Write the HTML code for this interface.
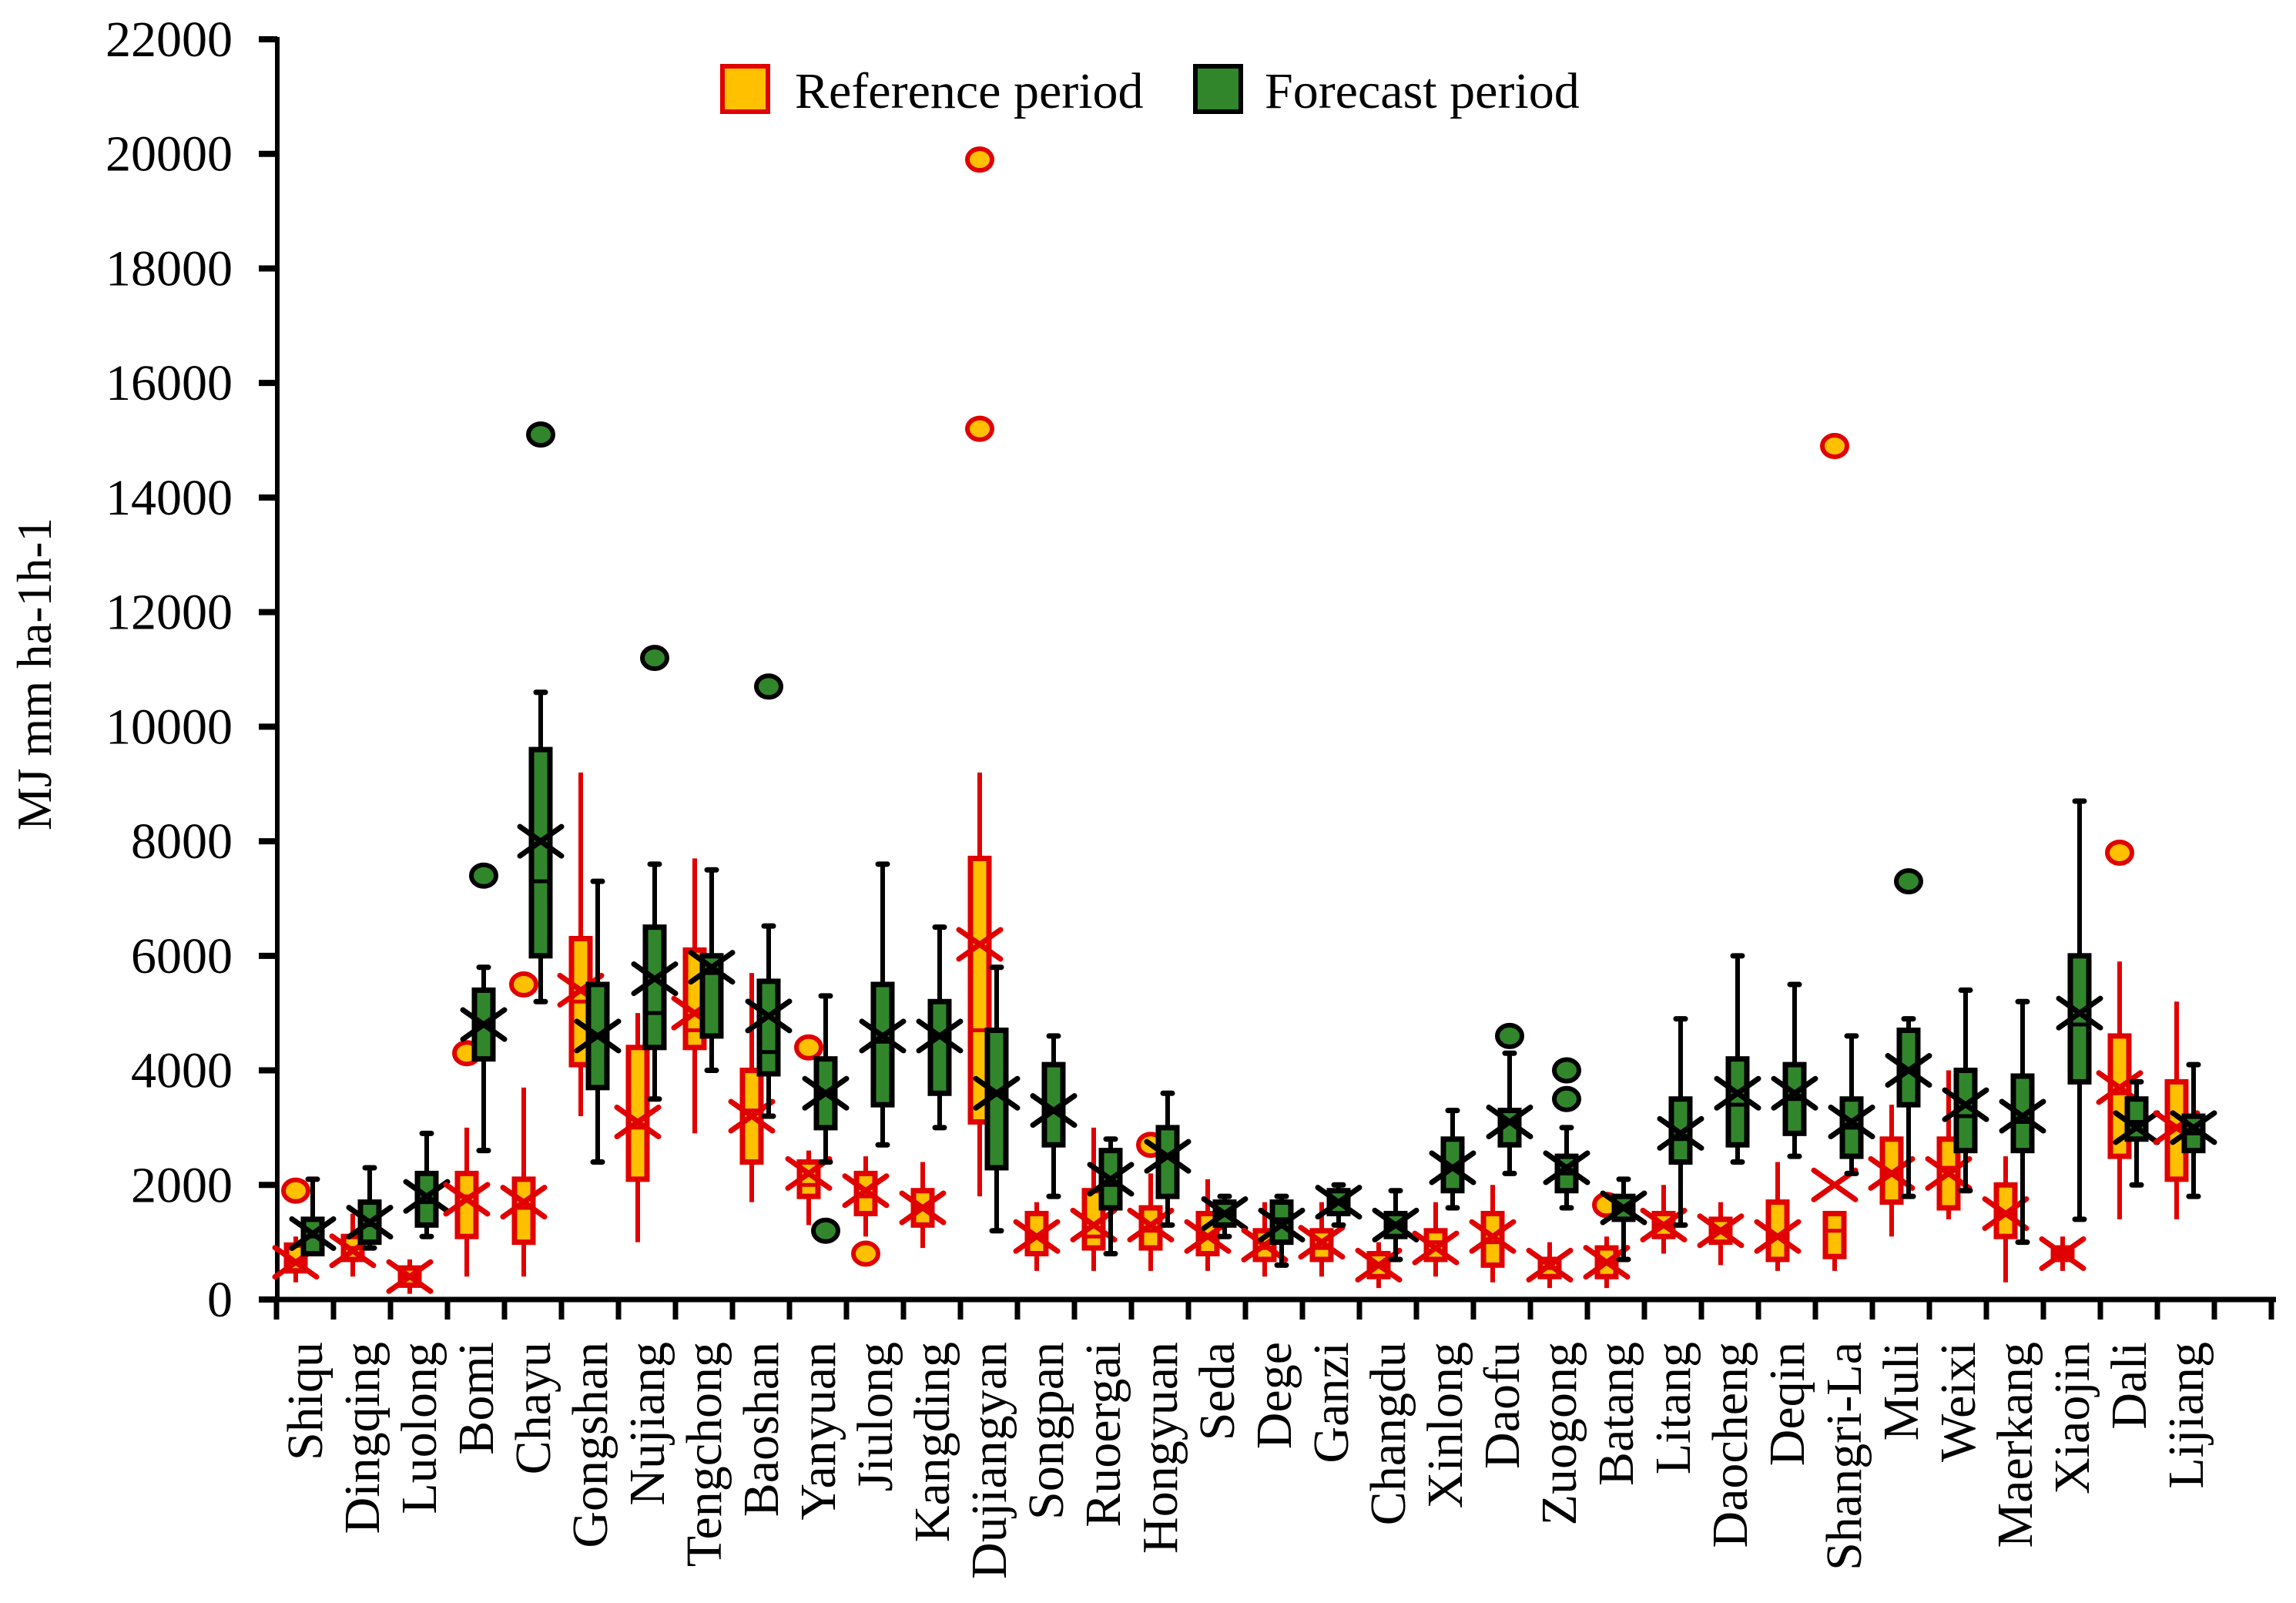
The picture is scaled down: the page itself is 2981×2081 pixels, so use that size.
<!DOCTYPE html>
<html><head><meta charset="utf-8"><style>
html,body{margin:0;padding:0;background:#fff;}
svg{display:block;font-family:"Liberation Serif",serif;}
</style></head><body>
<svg id="chart" width="2981" height="2081" viewBox="0 0 2981 2081" xmlns="http://www.w3.org/2000/svg">
<g id="axes"></g>
<g id="marks"></g>
<g id="legend">
  <rect x="938" y="86" width="59" height="59" fill="#ffc000" stroke="#e00000" stroke-width="6"/>
  <text x="1032" y="140" font-size="66">Reference period</text>
  <rect x="1552" y="86" width="59" height="59" fill="#31862c" stroke="#000" stroke-width="6"/>
  <text x="1642" y="140" font-size="66">Forecast period</text>
</g>
<text transform="translate(66,875) rotate(-90)" text-anchor="middle" font-size="63">MJ mm ha-1h-1</text>
</svg>
<script>
const categories = ["Shiqu","Dingqing","Luolong","Bomi","Chayu","Gongshan","Nujiang","Tengchong","Baoshan","Yanyuan","Jiulong","Kangding","Dujiangyan","Songpan","Ruoergai","Hongyuan","Seda","Dege","Ganzi","Changdu","Xinlong","Daofu","Zuogong","Batang","Litang","Daocheng","Deqin","Shangri-La","Muli","Weixi","Maerkang","Xiaojin","Dali","Lijiang"];
const yTicks = [0,2000,4000,6000,8000,10000,12000,14000,16000,18000,20000,22000];
// Reference period
const refLo  = [300,400,100,400,400,3200,1000,2900,1700,1300,1100,900,1800,500,500,500,500,400,400,200,400,300,200,200,800,600,500,500,1100,1400,300,500,1400,1400];
const refQ1  = [500,700,250,1100,1000,4100,2100,4400,2400,1800,1500,1300,3100,800,900,900,800,700,700,400,700,600,400,400,1100,1000,700,750,1700,1600,1100,700,2500,2100];
const refMed = [650,900,400,1800,1600,5200,3000,4700,3300,2000,1800,1600,4700,1100,1100,1200,1100,900,900,600,1000,1000,550,650,1300,1200,1100,1200,2200,2300,1500,800,3600,3000];
const refQ3  = [950,1100,550,2200,2100,6300,4400,6100,4000,2400,2200,1900,7700,1500,1900,1600,1500,1200,1200,800,1200,1500,700,900,1500,1400,1700,1500,2800,2800,2000,900,4600,3800];
const refHi  = [1100,1500,700,3000,3700,9200,5000,7700,5700,2600,2500,2400,9200,1700,3000,2200,2100,1700,1700,1000,1700,2000,1000,1100,2000,1700,2400,1500,3400,4000,2500,1100,5900,5200];
const refMean= [650,850,400,1750,1700,5400,3100,5000,3200,2200,1900,1600,6200,1100,1300,1300,1100,950,1000,600,900,1100,600,650,1300,1200,1100,2000,2200,2200,1500,800,3700,3000];
const refOut = [[1900],[],[],[4300],[5500],[],[],[],[],[4400],[800],[],[15200,19900],[],[],[2700],[],[],[],[],[],[],[],[1650],[],[],[],[14900],[],[],[],[],[7800],[]];
// Forecast period
const fcLo  = [800,900,1100,2600,5200,2400,3500,4000,3200,2400,2700,3000,1200,1800,800,1300,1100,600,1300,700,1600,2200,1600,700,1300,2400,2500,2200,1800,1900,1000,1400,2000,1800];
const fcQ1  = [800,1000,1300,4200,6000,3700,4400,4600,3940,3000,3400,3600,2300,2700,1600,1800,1300,1000,1500,1100,1900,2700,1900,1400,2400,2700,2900,2500,3400,2600,2600,3800,2800,2600];
const fcMed = [1100,1300,1700,4800,7300,4600,5000,5700,4320,3600,4500,4600,3600,3300,2000,2500,1500,1400,1700,1300,2300,3100,2200,1600,2800,3400,3500,3000,4000,3200,3100,4800,3100,2900];
const fcQ3  = [1400,1700,2200,5400,9600,5500,6500,6000,5555,4200,5500,5200,4700,4100,2600,3000,1700,1700,1900,1500,2800,3300,2500,1800,3500,4200,4100,3500,4700,4000,3900,6000,3500,3200];
const fcHi  = [2100,2300,2900,5800,10600,7300,7600,7500,6520,5300,7600,6500,5800,4600,2800,3600,1800,1800,2000,1900,3300,4300,3000,2100,4900,6000,5500,4600,4900,5400,5200,8700,3800,4100];
const fcMean= [1150,1350,1800,4800,8000,4600,5600,5800,4950,3600,4600,4600,3600,3300,2100,2500,1500,1300,1700,1300,2300,3100,2300,1600,2900,3600,3600,3100,4000,3400,3200,5000,3000,3000];
const fcOut = [[],[],[],[7400],[15100],[],[11200],[],[10700],[1200],[],[],[],[],[],[],[],[],[],[],[],[4600],[3500,4000],[],[],[],[],[],[7300],[],[],[],[],[]];

const X0 = 359, CW = 74, Y0 = 1687, YTOP = 51, YMAX = 22000;
function yS(v){ return Y0 - v / YMAX * (Y0 - YTOP); }
function xC(i){ return X0 + CW * (i + 0.5); }
const NS = "http://www.w3.org/2000/svg";
function mk(tag, attrs, parent){
  const e = document.createElementNS(NS, tag);
  for (const k in attrs) e.setAttribute(k, attrs[k]);
  parent.appendChild(e);
  return e;
}
const axes = document.getElementById('axes');
const marks = document.getElementById('marks');

const yAxis = mk('line', {x1:360, y1:YTOP-3, x2:360, y2:Y0+3, stroke:'#000','stroke-width':6}, axes);


const xAxis = mk('line', {x1:357, y1:Y0, x2:2955, y2:Y0, stroke:'#000','stroke-width':7}, axes);



yTicks.forEach(function(t){
  const y = yS(t);
  const tk = mk('line', {x1:336, y1:y, x2:360, y2:y, stroke:'#000','stroke-width':8}, axes);
  
  
  const lb = mk('text', {x:302, y:y+22, 'text-anchor':'end','font-size':66}, axes);
  
  
  lb.textContent = String(t);
});
for (let k = 0; k <= categories.length + 1; k++){
  const x = X0 + CW * k;
  const tk = mk('line', {x1:x, y1:Y0, x2:x, y2:Y0+26, stroke:'#000','stroke-width':7}, axes);
  
  
}
categories.forEach(function(c, i){
  const x = xC(i) + 22;
  const lb = mk('text', {transform:'translate(' + x + ',1742) rotate(-90)', 'text-anchor':'end','font-size':66}, axes);
  
  
  lb.textContent = c;
});

function drawBox(i, off, lo, q1, med, q3, hi, mean, outs, fill, stroke, caps, key){
  const g = mk('g', {}, marks);
  
  
  const cx = xC(i) + off, w = 24;
  const wl = mk('line', {x1:cx, y1:yS(lo), x2:cx, y2:yS(hi), stroke:stroke, 'stroke-width':6}, g);
  
  
  if (caps){
    [lo, hi].forEach(function(v){
      const cp = mk('line', {x1:cx-6, y1:yS(v), x2:cx+6, y2:yS(v), stroke:stroke,'stroke-width':7,'stroke-linecap':'round'}, g);
      
      
    });
  }
  const bx = mk('rect', {x:cx-w/2, y:yS(q3), width:w, height:Math.max(2, yS(q1)-yS(q3)), fill:fill, stroke:stroke, 'stroke-width':7}, g);
  
  
  const md = mk('line', {x1:cx-w/2, y1:yS(med), x2:cx+w/2, y2:yS(med), stroke:stroke, 'stroke-width':5}, g);
  
  
  const my = yS(mean);
  const mx = mk('path', {d:'M'+(cx-27)+' '+(my-19)+'L'+(cx+27)+' '+(my+19)+'M'+(cx-27)+' '+(my+19)+'L'+(cx+27)+' '+(my-19), stroke:stroke, 'stroke-width':7, fill:'none','stroke-linecap':'round'}, g);
  
  
  outs.forEach(function(v){
    const o = mk('ellipse', {cx:cx, cy:yS(v), rx:16, ry:14, fill:fill, stroke:stroke, 'stroke-width':6}, g);
    
    
  });
}
categories.forEach(function(c, i){
  drawBox(i, -12, refLo[i], refQ1[i], refMed[i], refQ3[i], refHi[i], refMean[i], refOut[i], '#ffc000', '#e00000', false, 'reference');
  drawBox(i, 10, fcLo[i], fcQ1[i], fcMed[i], fcQ3[i], fcHi[i], fcMean[i], fcOut[i], '#31862c', '#000', true, 'forecast');
});
</script>
</body></html>
